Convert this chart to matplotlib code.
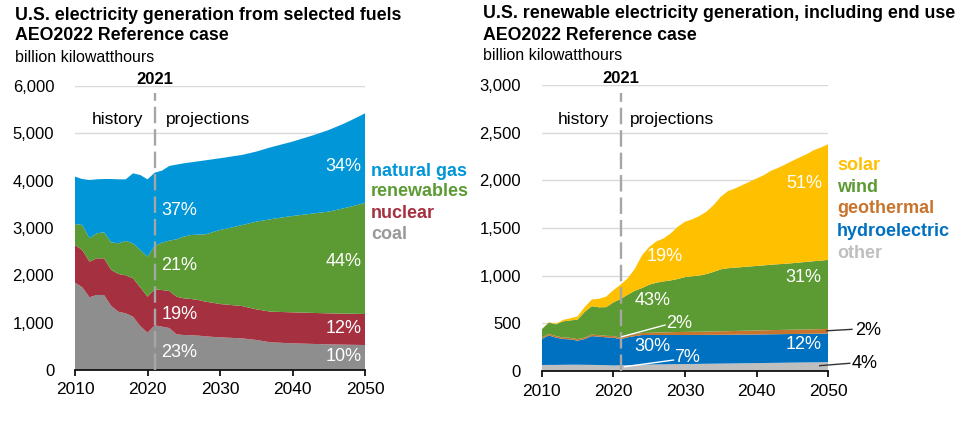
import numpy as np
import matplotlib.pyplot as plt

plt.rcParams['font.family'] = ['Liberation Sans', 'DejaVu Sans']

# ---- data (billion kWh) ----
years = list(range(2010, 2051))

# left chart: selected fuels
coal = [1845, 1750, 1536, 1585, 1585, 1352, 1232, 1197, 1127, 930, 789, 944, 916, 887, 754, 740,
        735, 726, 712, 700, 690, 683, 676, 669, 652, 634, 610, 585, 578, 570, 563, 559, 555, 550,
        546, 542, 539, 536, 533, 530, 528]
nuclear = [796, 785, 753, 774, 774, 761, 796, 803, 810, 817, 760, 760, 774, 782, 795, 774, 765,
           753, 732, 720, 704, 697, 690, 683, 665, 648, 647, 647, 650, 653, 655, 655, 655, 655,
           655, 655, 655, 655, 656, 656, 655]
renewables = [444, 529, 493, 529, 550, 584, 648, 726, 739, 788, 845, 916, 1000, 1064, 1212, 1303,
              1352, 1381, 1423, 1492, 1564, 1610, 1659, 1708, 1780, 1852, 1903, 1953, 1982, 2009,
              2036, 2058, 2080, 2105, 2127, 2149, 2186, 2224, 2261, 2304, 2347]
natural_gas = [1000, 971, 1232, 1140, 1126, 1338, 1352, 1302, 1479, 1585, 1634, 1549, 1521, 1577,
               1578, 1550, 1536, 1549, 1563, 1540, 1515, 1506, 1495, 1483, 1481, 1480, 1500, 1520,
               1535, 1553, 1571, 1600, 1629, 1656, 1690, 1725, 1755, 1783, 1820, 1855, 1893]

# right chart: renewables incl. end use
other = [63, 64, 64, 65, 66, 66, 65, 64, 63, 61, 58, 60, 62, 64, 66, 68, 69, 70, 71, 72, 73, 74,
         75, 76, 77, 78, 79, 80, 81, 82, 83, 84, 85, 86, 87, 88, 89, 90, 91, 92, 94]
hydro = [272, 309, 286, 270, 266, 252, 270, 302, 297, 292, 292, 272, 291, 302, 311, 310, 309, 308,
         307, 306, 305, 304, 303, 303, 302, 302, 301, 301, 301, 300, 300, 300, 300, 300, 300, 300,
         300, 300, 300, 300, 300]
geothermal = [15, 16, 16, 16, 16, 16, 16, 16, 16, 16, 17, 17, 18, 19, 21, 23, 25, 27, 29, 31, 32,
              33, 34, 35, 36, 37, 38, 39, 40, 41, 42, 43, 44, 44, 45, 45, 46, 46, 47, 47, 48]
wind = [87, 118, 124, 170, 183, 204, 270, 298, 292, 301, 353, 406, 429, 457, 472, 504, 523, 535,
        543, 556, 575, 583, 589, 603, 625, 649, 660, 664, 668, 673, 677, 681, 686, 690, 693, 698,
        703, 709, 714, 719, 724]
solar = [3, 4, 8, 15, 22, 35, 50, 70, 90, 110, 128, 150, 172, 230, 344, 396, 433, 450, 493, 548,
         581, 597, 624, 654, 701, 762, 809, 831, 860, 889, 918, 946, 985, 1011, 1041, 1074, 1102,
         1130, 1165, 1187, 1214]

left_names = ['natural gas', 'renewables', 'nuclear', 'coal']
left_colors = ['#0096D7', '#5C9A33', '#A5303F', '#8E8E8E']
left_text_colors = ['#0096D7', '#5C9A33', '#A5303F', '#999999']

right_names = ['solar', 'wind', 'geothermal', 'hydroelectric', 'other']
right_colors = ['#FFC000', '#5C9A33', '#C8742D', '#0070C0', '#BFBFBF']

W, H = 975, 433
fig = plt.figure(figsize=(W / 100, H / 100), dpi=100)


def px(x, y):
    return x / W, 1 - y / H


def style_axis(ax, ymax, ystep):
    ax.set_xlim(2010, 2050)
    ax.set_ylim(0, ymax)
    ax.set_xticks([2010, 2020, 2030, 2040, 2050])
    ax.set_yticks(np.arange(0, ymax + 1, ystep))
    ax.set_yticklabels([f'{int(v):,}' for v in np.arange(0, ymax + 1, ystep)])
    for s in ['top', 'right', 'left']:
        ax.spines[s].set_visible(False)
    ax.spines['bottom'].set_color('#111111')
    ax.spines['bottom'].set_linewidth(1.3)
    ax.tick_params(axis='x', length=4, width=1.3, color='#111111', labelsize=12.5, pad=5)
    ax.tick_params(axis='y', length=0, labelsize=12, pad=15)
    ax.grid(axis='y', color='#D9D9D9', linewidth=1)
    ax.set_axisbelow(True)
    ax.set_facecolor('none')


# ---- left chart ----
ax1 = fig.add_axes([75 / W, 63 / H, 290 / W, 284 / H])
ax1.stackplot(years, coal, nuclear, renewables, natural_gas,
              colors=left_colors[::-1], linewidth=0)
style_axis(ax1, 6000, 1000)
ax1.axvline(2021, ymax=0.975, color='#A6A6A6', lw=1.7, ls=(0, (7, 2.5)), zorder=3)
ax1.text(2021, 6130, '2021', ha='center', va='center', fontsize=12, fontweight='bold')
ax1.text(2015.9, 5282, 'history', ha='center', va='center', fontsize=12.5)
ax1.text(2022.5, 5282, 'projections', ha='left', va='center', fontsize=12.5)

for txt, y in [('37%', 3380), ('21%', 2204), ('19%', 1183), ('23%', 366)]:
    ax1.text(2021.9, y, txt, color='white', ha='left', va='center', fontsize=13, zorder=4)
for txt, y in [('34%', 4295), ('44%', 2282), ('12%', 887), ('10%', 281)]:
    ax1.text(2049.5, y, txt, color='white', ha='right', va='center', fontsize=13, zorder=4)

for i, (name, c) in enumerate(zip(left_names, left_text_colors)):
    fig.text(*px(371, 171 + 21 * i), name, color=c, fontsize=13, fontweight='bold', va='center')

fig.text(*px(15, 15), 'U.S. electricity generation from selected fuels', fontsize=12.8,
         fontweight='bold', va='center')
fig.text(*px(15, 36), 'AEO2022 Reference case', fontsize=12.8, fontweight='bold', va='center')
fig.text(*px(15, 57), 'billion kilowatthours', fontsize=11.5, va='center')

# ---- right chart ----
ax2 = fig.add_axes([541.7 / W, 62 / H, 286.6 / W, 286 / H])
ax2.stackplot(years, other, hydro, geothermal, wind, solar,
              colors=right_colors[::-1], linewidth=0)
style_axis(ax2, 3000, 500)
ax2.axvline(2021, ymax=0.971, color='#A6A6A6', lw=1.7, ls=(0, (7, 2.5)), zorder=3)
ax2.text(2021, 3065, '2021', ha='center', va='center', fontsize=12, fontweight='bold')
ax2.text(2015.8, 2641, 'history', ha='center', va='center', fontsize=12.5)
ax2.text(2022.3, 2641, 'projections', ha='left', va='center', fontsize=12.5)

ax2.text(2049.1, 1968, '51%', color='white', ha='right', va='center', fontsize=13, zorder=4)
ax2.text(2049.0, 978, '31%', color='white', ha='right', va='center', fontsize=13, zorder=4)
ax2.text(2049.0, 283, '12%', color='white', ha='right', va='center', fontsize=13, zorder=4)
ax2.text(2027.1, 1198, '19%', color='white', ha='center', va='center', fontsize=13, zorder=4)
ax2.text(2025.5, 737, '43%', color='white', ha='center', va='center', fontsize=13, zorder=4)
ax2.text(2025.5, 255, '30%', color='white', ha='center', va='center', fontsize=13, zorder=4)
ax2.text(2029.2, 500, '2%', color='white', ha='center', va='center', fontsize=13, zorder=4)
ax2.text(2030.3, 144, '7%', color='white', ha='center', va='center', fontsize=13, zorder=4)
ax2.plot([2021.2, 2027.2], [360, 482], color='white', lw=1, zorder=4)
ax2.plot([2021.6, 2028.4], [45, 115], color='white', lw=1, zorder=4)

ax2.plot([2049.8, 2053.3], [422, 437], color='#333333', lw=1, clip_on=False)
ax2.text(2053.7, 422, '2%', ha='left', va='center', fontsize=13)
ax2.plot([2048.8, 2053.0], [56, 81], color='#333333', lw=1, clip_on=False)
ax2.text(2053.3, 81, '4%', ha='left', va='center', fontsize=13)

for i, (name, c) in enumerate(zip(right_names, right_colors)):
    fig.text(*px(837, 165 + 22 * i), name, color=c, fontsize=13, fontweight='bold', va='center')

fig.text(*px(483, 14), 'U.S. renewable electricity generation, including end use', fontsize=12.8,
         fontweight='bold', va='center')
fig.text(*px(483, 35), 'AEO2022 Reference case', fontsize=12.8, fontweight='bold', va='center')
fig.text(*px(483, 56), 'billion kilowatthours', fontsize=11.5, va='center')

fig.savefig('out.png', dpi=100)
